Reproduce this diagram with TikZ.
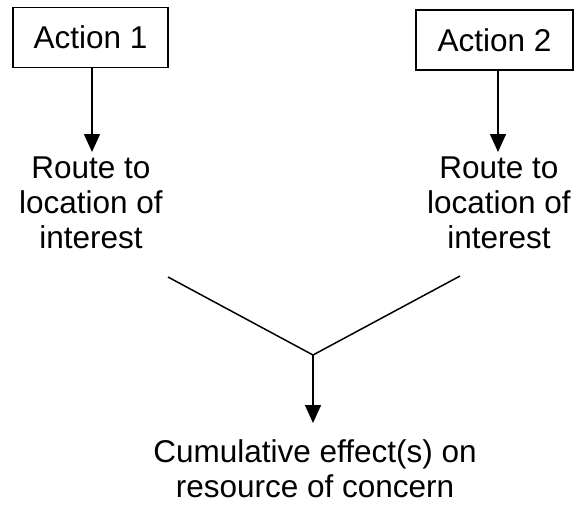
\documentclass[tikz,border=0pt]{standalone}
\usepackage{fontspec}
\setmainfont{Liberation Sans}
\usetikzlibrary{arrows.meta}
\begin{document}
\begin{tikzpicture}[x=1pt,y=-1pt,
  every node/.style={font=\fontsize{31.5}{35}\selectfont, inner sep=0pt},
  actionbox/.style={draw, line width=1.3pt, minimum height=60pt},
  label/.style={align=center, anchor=base},
  conn/.style={line width=1.5pt},
  arr/.style={conn, -{Triangle[width=16pt,length=18pt]}}]
\useasboundingbox (0,0) rectangle (575,504);
\node[actionbox, minimum width=155pt] (a1) at (90.5,37.5) {Action 1};
\node[actionbox, minimum width=157pt] (a2) at (494.5,40) {Action 2};
\node[label] (r1) at (91,248) {Route to\\location of\\interest};
\node[label] (r2) at (499,248) {Route to\\location of\\interest};
\node[label, text depth=0pt] (c) at (315,497) {Cumulative effect(s) on\\resource of concern};
\coordinate (vl) at (168,277);
\coordinate (vj) at (313,355);
\coordinate (vr) at (460,276);
\coordinate (t1) at (92,152);
\coordinate (t2) at (498,152);
\coordinate (tc) at (313,423);
\draw[arr] (a1.south -| t1) -- (t1);
\draw[arr] (a2.south -| t2) -- (t2);
\draw[conn] (vl) -- (vj) -- (vr);
\draw[arr] (vj) -- (tc);
\end{tikzpicture}
\end{document}
